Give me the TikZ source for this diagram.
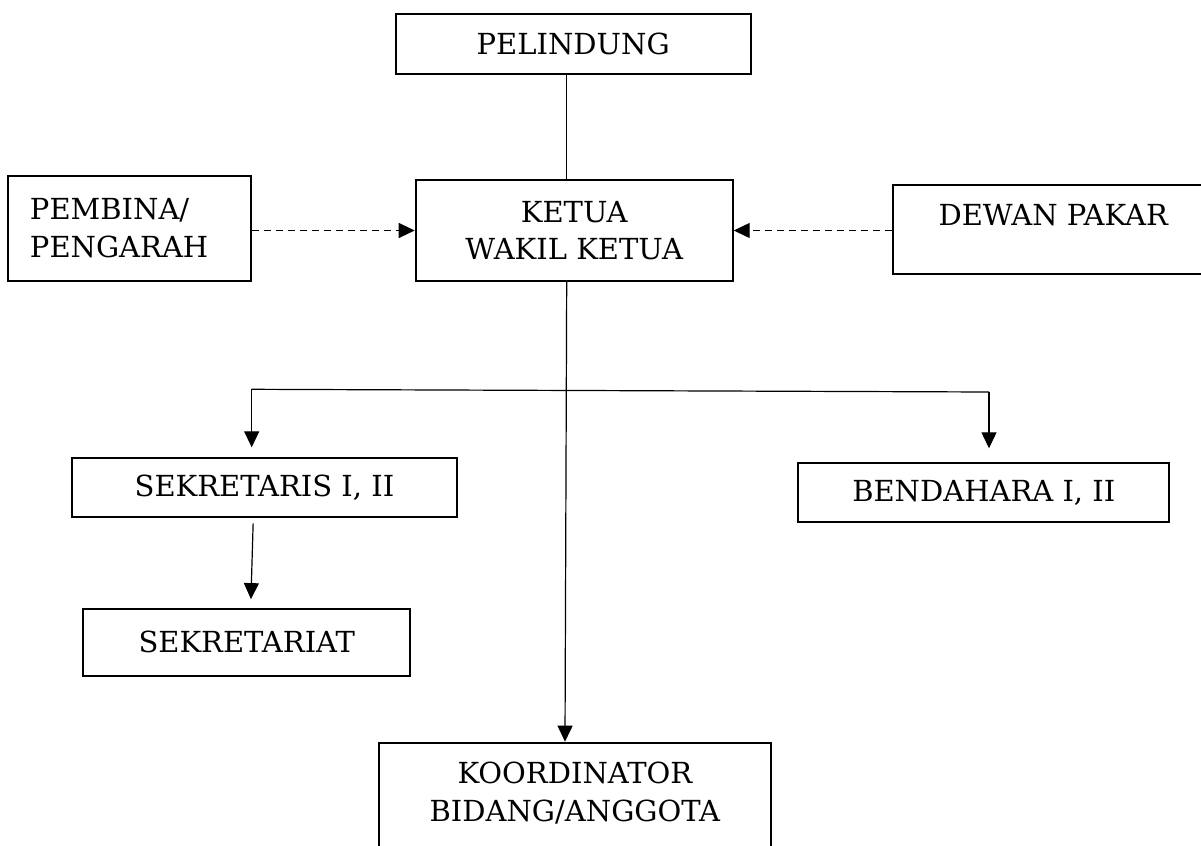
\documentclass[tikz,border=0pt]{standalone}
\usepackage{fontspec}
\setmainfont{DejaVu Serif}
\usetikzlibrary{arrows.meta}

\begin{document}
\begin{tikzpicture}[x=0.5pt, y=-0.5pt, >={Triangle[length=8pt,width=7.5pt]},
	jabatan/.style={draw, line width=1pt, inner sep=0pt, align=center,
		font=\fontsize{14.5}{18.8}\selectfont},
	garis/.style={line width=0.6pt},
	putus/.style={garis, dash pattern=on 3.5pt off 2.5pt}]

\useasboundingbox (0,0) rectangle (1201,846);

\node[jabatan, minimum width=177.5pt, minimum height=29.85pt] (pelindung) at (573.2,43.85) {PELINDUNG};
\node[jabatan, minimum width=158.5pt, minimum height=50.2pt] (ketua) at (574.2,230.5) {KETUA\\WAKIL KETUA};
\node[jabatan, align=left, text width=99.5pt, inner xsep=10.85pt, minimum height=52.35pt] (pembina) at (129.5,228.35) {PEMBINA/\\PENGARAH};
\node[jabatan, minimum width=160pt, minimum height=44.65pt, text height=10.6pt, text depth=14.55pt] (dewan) at (1053.2,229.65) {DEWAN PAKAR};
\node[jabatan, minimum width=192.8pt, minimum height=29.2pt] (sekretaris) at (264.5,487.5) {SEKRETARIS I, II};
\node[jabatan, minimum width=163.35pt, minimum height=33.65pt] (sekretariat) at (246.7,642.35) {SEKRETARIAT};
\node[jabatan, minimum width=185.5pt, minimum height=29.2pt] (bendahara) at (983.8,492.5) {BENDAHARA I, II};
\node[jabatan, minimum width=195.85pt, minimum height=62.3pt, text height=29.4pt, text depth=13.4pt] (koordinator) at (574.85,805) {KOORDINATOR\\BIDANG/ANGGOTA};

\coordinate (spine) at (566.7,0);
\coordinate (cabangkiri) at (251.7,389.3);
\coordinate (cabangkanan) at (989,392);

\draw[garis] (pelindung.south -| spine) -- (ketua.north -| spine);
\draw[putus,->] (pembina.east |- ketua.west) -- (ketua.west);
\draw[putus,->] (dewan.west |- ketua.east) -- (ketua.east);
\draw[garis,->] (ketua.south -| spine) -- ([xshift=-0.85pt]koordinator.north -| spine);

\draw[garis] (cabangkiri) -- (cabangkanan);
\draw[garis,->,shorten >=5pt] (cabangkiri) -- (cabangkiri |- sekretaris.north);
\draw[garis,->,shorten >=7pt] (cabangkanan) -- (cabangkanan |- bendahara.north);
\draw[garis,->,shorten <=2.8pt,shorten >=4.3pt] ([xshift=0.8pt]sekretaris.south -| cabangkiri) -- ([xshift=-0.5pt]sekretariat.north -| cabangkiri);

\end{tikzpicture}
\end{document}
